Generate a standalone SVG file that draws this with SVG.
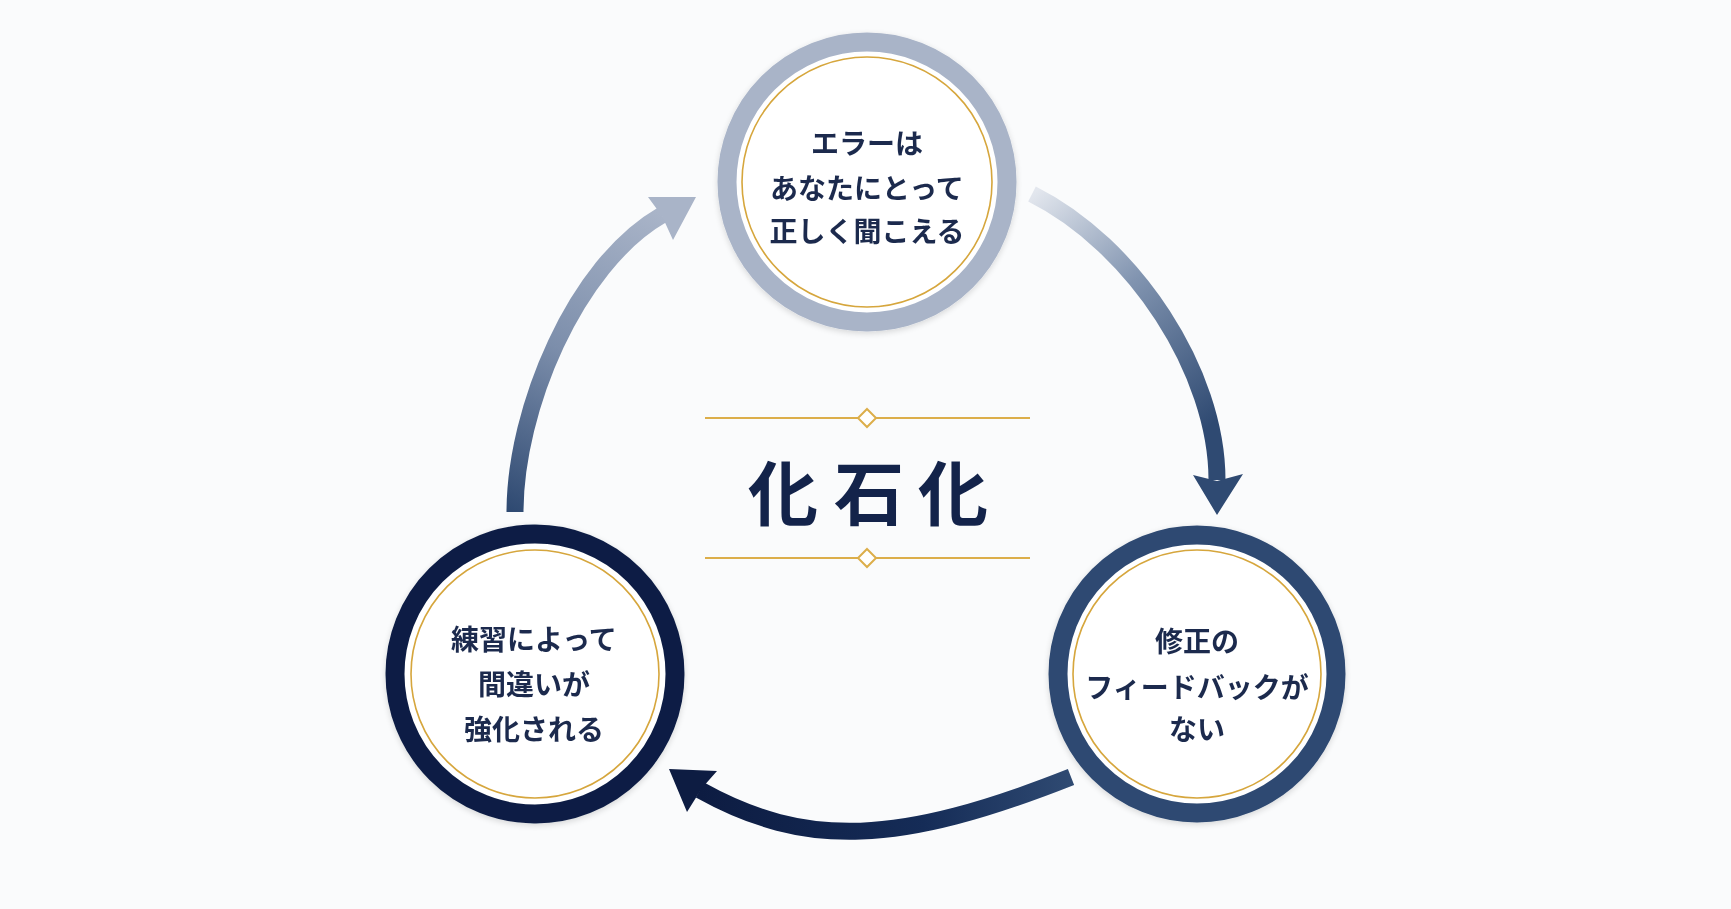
<svg xmlns="http://www.w3.org/2000/svg" width="1731" height="909" viewBox="0 0 1731 909">
<style>
.ring{fill:#ffffff;stroke-width:19}
.gold{fill:none;stroke:#d6a63c;stroke-width:1.6}
.lbl{font-family:"Noto Sans CJK JP","Noto Sans",sans-serif;font-size:28px;font-weight:700;fill:#1b2a4e;text-anchor:middle;dominant-baseline:central}
.title{font-family:"Noto Sans CJK JP","Noto Sans",sans-serif;font-size:70px;font-weight:700;fill:#13234a;text-anchor:middle;dominant-baseline:central}
.shaft{fill:none;stroke-width:17;stroke-linecap:butt}
.rule{stroke:#dcae4a;stroke-width:2}
.dia{fill:#ffffff;stroke:#dcae4a;stroke-width:2}
</style>
<defs>
<linearGradient id="gA" gradientUnits="userSpaceOnUse" x1="1032" y1="194" x2="1217" y2="420">
<stop offset="0" stop-color="#e3e7ee"/><stop offset="0.45" stop-color="#8194b0"/><stop offset="1" stop-color="#2f4a72"/>
</linearGradient>
<linearGradient id="gB" gradientUnits="userSpaceOnUse" x1="1071" y1="777" x2="700" y2="790">
<stop offset="0" stop-color="#2f4a72"/><stop offset="0.4" stop-color="#152c57"/><stop offset="1" stop-color="#0d1c42"/>
</linearGradient>
<linearGradient id="gC" gradientUnits="userSpaceOnUse" x1="515" y1="512" x2="662" y2="215">
<stop offset="0" stop-color="#2f4a72"/><stop offset="0.5" stop-color="#7c8eab"/><stop offset="1" stop-color="#a9b4c8"/>
</linearGradient>
<filter id="sh" x="-20%" y="-20%" width="140%" height="140%">
<feGaussianBlur in="SourceAlpha" stdDeviation="3"/><feOffset dy="2"/><feComponentTransfer><feFuncA type="linear" slope="0.15"/></feComponentTransfer><feMerge><feMergeNode/><feMergeNode in="SourceGraphic"/></feMerge>
</filter>
</defs>
<rect width="1731" height="909" fill="#fafbfc"/>

<g id="connectors">
<path class="shaft" stroke="url(#gA)" d="M1032,194 C1134,245 1217,372 1217,480"/>
<polygon fill="#2f4a72" points="1193,475 1217,481 1243,474 1217,515"/>
<path class="shaft" stroke="url(#gB)" d="M1071,777 C899,845 806,849 700,790"/>
<polygon fill="#0d1c42" points="717,771 702,788 687,812 669,769"/>
<path class="shaft" stroke="url(#gC)" d="M515,512 C515,410 575,265 662,215"/>
<polygon fill="#a9b4c8" points="648,197 662,216 673,240 696,197"/>
</g>

<g id="node-top" filter="url(#sh)">
<circle class="ring" cx="867" cy="182" r="140" stroke="#a9b4c8"/>
<circle class="gold" cx="867" cy="182" r="125"/>
<text class="lbl" x="867" y="142">エラーは</text>
<text class="lbl" x="867" y="187">あなたにとって</text>
<text class="lbl" x="867" y="230">正しく聞こえる</text>
</g>

<g id="node-right" filter="url(#sh)">
<circle class="ring" cx="1197" cy="674" r="139" stroke="#2f4a72"/>
<circle class="gold" cx="1197" cy="674" r="124"/>
<text class="lbl" x="1197" y="640">修正の</text>
<text class="lbl" x="1197" y="686">フィードバックが</text>
<text class="lbl" x="1197" y="728">ない</text>
</g>

<g id="node-left" filter="url(#sh)">
<circle class="ring" cx="535" cy="674" r="140" stroke="#0f1f45"/>
<circle class="gold" cx="535" cy="674" r="124"/>
<text class="lbl" x="534" y="638">練習によって</text>
<text class="lbl" x="534" y="683">間違いが</text>
<text class="lbl" x="534" y="728">強化される</text>
</g>

<g id="title">
<line class="rule" x1="705" y1="418" x2="858" y2="418"/>
<line class="rule" x1="876" y1="418" x2="1030" y2="418"/>
<polygon class="dia" points="867,409 876,418 867,427 858,418"/>
<text class="title" x="783 869 953" y="489">化石化</text>
<line class="rule" x1="705" y1="558" x2="858" y2="558"/>
<line class="rule" x1="876" y1="558" x2="1030" y2="558"/>
<polygon class="dia" points="867,549 876,558 867,567 858,558"/>
</g>
</svg>
